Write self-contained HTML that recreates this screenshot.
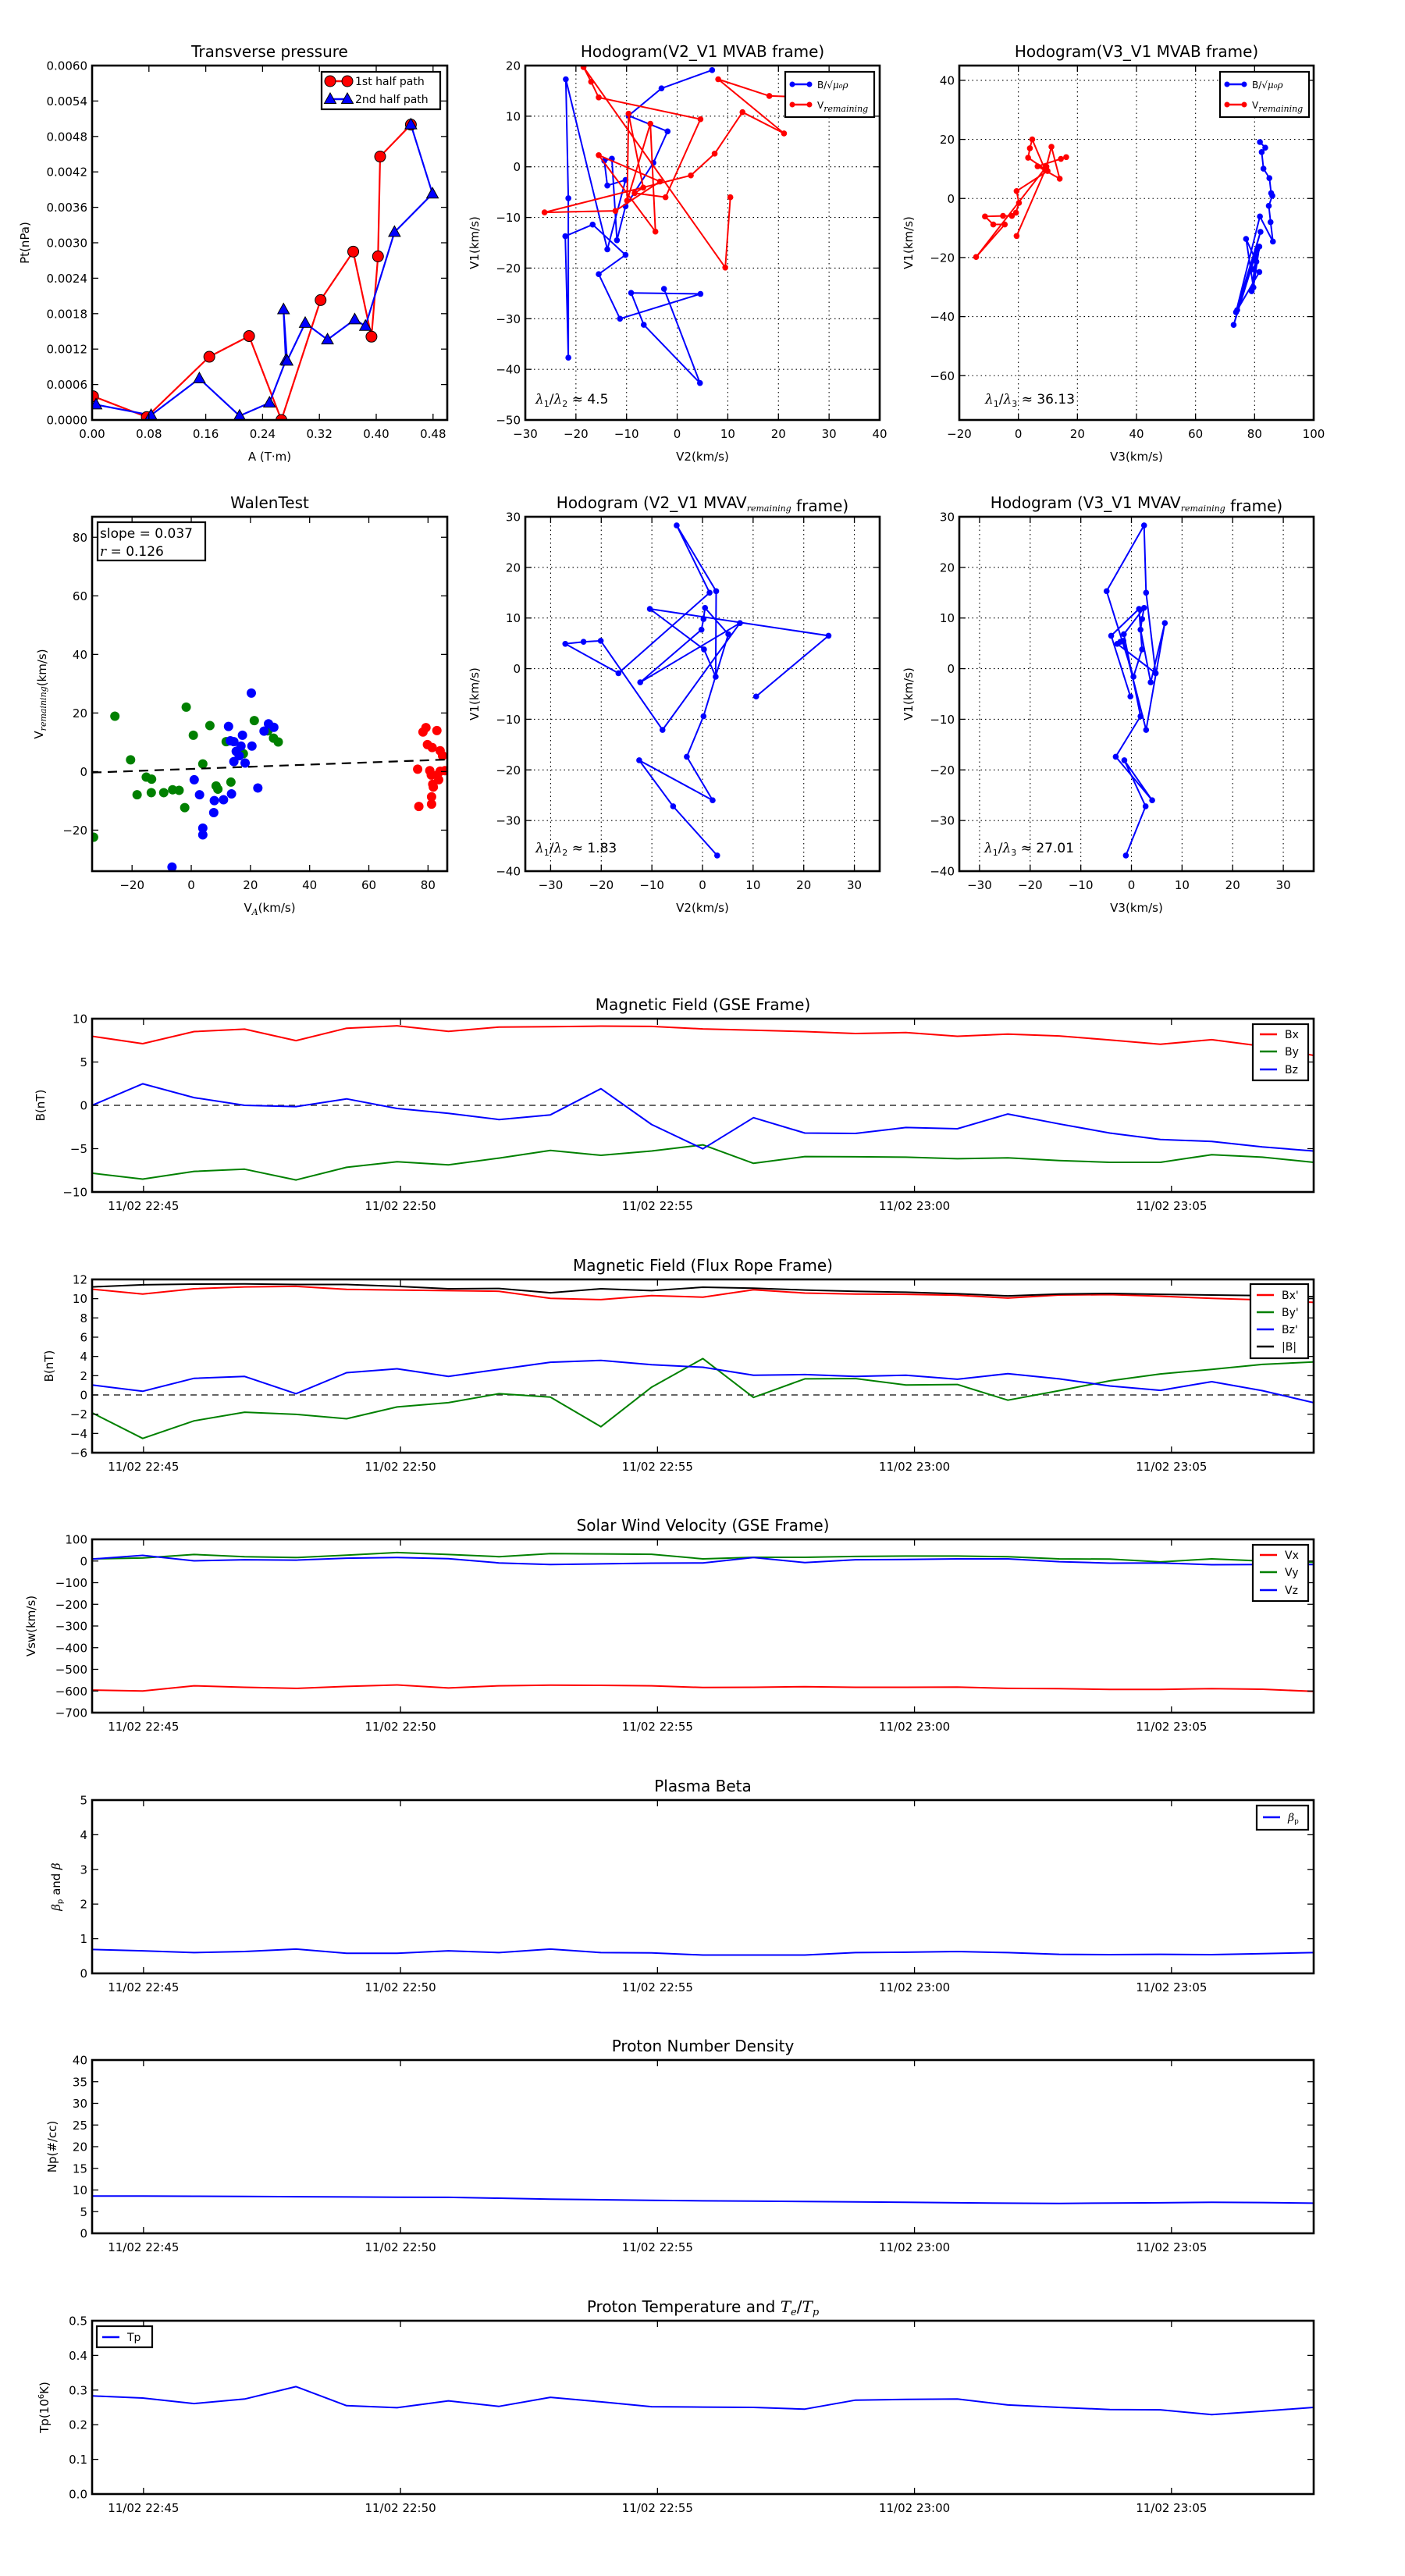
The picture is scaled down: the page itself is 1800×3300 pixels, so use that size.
<!DOCTYPE html>
<html><head><meta charset="utf-8"><title>Flux rope analysis</title>
<style>
html,body{margin:0;padding:0;background:#fff;}
svg{display:block;font-family:"DejaVu Sans","Liberation Sans",sans-serif;}
</style></head>
<body>
<svg id="fig" xmlns="http://www.w3.org/2000/svg" width="1800" height="3300" viewBox="0 0 1800 3300">
<rect x="0" y="0" width="1800" height="3300" fill="#fff"/>
</svg>
<script>
// ---------- Transverse pressure ----------
const P1_A1 = [0.0013,0.077,0.165,0.221,0.2665,0.3217,0.3676,0.3933,0.4025,0.4055,0.4488];
const P1_PT1 = [0.000402,0.00005,0.00107,0.00142,0,0.00203,0.00285,0.00141,0.00277,0.00446,0.00500];
const P1_A2 = [0.0055,0.083,0.151,0.2076,0.2497,0.2728,0.2695,0.2745,0.300,0.3314,0.3697,0.3848,0.4257,0.4792,0.4488];
const P1_PT2 = [0.00026,0.00008,0.00070,0.00007,0.00029,0.00101,0.00187,0.0010,0.00164,0.00136,0.00170,0.00159,0.00318,0.00383,0.005];
// ---------- Hodogram V2_V1 MVAB ----------
const H2_B_V2 = [6.9,-3.1,-9.6,-1.9,-4.7,-10.2,-11.9,-12.9,-14.4,-13.8,-10.2,-13.8,-22.0,-21.5,-21.5,-22.1,-16.7,-10.2,-15.5,-11.3,4.6,-9.1,-6.6,4.5,-2.6];
const H2_B_V1 = [19.1,15.5,10.1,7.0,0.8,-7.8,-14.5,1.6,1.2,-3.7,-2.6,-16.3,17.3,-6.2,-37.7,-13.7,-11.4,-17.4,-21.2,-30.0,-25.1,-24.9,-31.2,-42.7,-24.1];
const H2_R_V2 = [10.5,9.5,-18.5,-17.0,-15.5,4.6,-2.3,-8.4,-6.7,-9.6,-9.9,-5.3,-4.3,-15.5,-3.4,-12.2,-26.2,2.7,7.4,12.9,21.1,8.1,18.2,24.9];
const H2_R_V1 = [-6.0,-19.9,19.7,16.8,13.7,9.4,-6.0,-5.2,-4.1,10.5,-6.7,8.5,-12.8,2.3,-2.9,-8.7,-9.0,-1.7,2.6,10.8,6.6,17.3,14.0,13.8];
// ---------- Hodogram V3_V1 MVAB ----------
const H3_B_V3 = [81.8,83.6,82.4,83.0,85.0,85.6,86.0,84.8,85.4,86.2,81.8,73.7,82.0,72.9,80.8,79.0,81.6,79.6,77.1,80.6,79.4,81.6,74.1];
const H3_B_V1 = [19.1,17.2,15.7,10.1,6.9,1.8,0.9,-2.5,-8.0,-14.6,-6.1,-38.5,-11.3,-42.8,-17.4,-31.4,-16.3,-30.1,-13.7,-21.4,-24.0,-24.9,-37.8];
const H3_R_V3 = [-0.6,9.1,4.7,3.9,3.3,9.9,-0.6,0.2,-0.8,-2.2,-5.2,-11.3,-8.5,-4.6,-14.3,9.5,11.2,14.0,6.5,16.2,14.4];
const H3_R_V1 = [-12.7,9.6,20.0,17.0,13.8,9.3,2.5,-1.5,-4.8,-5.9,-5.9,-6.1,-8.8,-8.8,-19.8,10.8,17.5,6.7,10.9,14.0,13.4];
// ---------- Walen test ----------
const W_G_VA = [-33.0,-25.8,-20.5,-18.3,-15.2,-13.4,-13.5,-9.3,-6.3,-4.1,-2.2,-1.7,0.7,3.9,6.3,8.4,9.0,11.8,13.4,17.6,21.3,25.9,27.8,29.4];
const W_G_V = [-22.4,18.9,4.0,-7.9,-1.9,-2.6,-7.2,-7.2,-6.2,-6.4,-12.3,22.0,12.4,2.6,15.7,-4.9,-6.0,10.2,-3.6,6.1,17.4,13.9,11.4,10.1];
const W_B_VA = [-6.5,1.0,2.8,3.9,3.9,7.6,7.8,10.9,12.6,13.2,14.4,13.6,14.4,15.2,16.2,16.8,17.3,18.2,20.3,20.5,22.5,24.6,26.1,27.9];
const W_B_V = [-32.6,-2.8,-7.9,-19.3,-21.6,-14.0,-9.9,-9.6,15.4,10.5,10.2,-7.6,3.4,6.9,5.4,8.7,12.4,2.9,26.8,8.7,-5.6,13.8,16.3,15.1];
const W_R_VA = [76.5,76.9,78.3,79.3,79.8,81.4,83.0,84.1,84.9,85.7,80.6,81.1,81.6,81.8,81.2,81.2,83.1,83.6,84.1];
const W_R_V = [0.8,-11.9,13.5,15.0,9.2,8.2,14.0,7.1,5.4,0.3,0.3,-1.2,-4.3,-5.3,-8.6,-11.1,-1.2,-2.8,0.1];
const W_SLOPE = 0.037;
const W_INTERCEPT = 0.9;
// ---------- MVAV hodograms (shared V1) ----------
const M_V1 = [-36.9,-27.2,-18.1,-26.0,-17.4,-9.4,6.8,12.0,9.8,7.7,-2.7,9.0,-12.1,5.5,5.3,4.9,-0.9,15.0,28.3,15.3,-1.6,3.8,11.8,6.5,-5.5];
const M_V2 = [2.9,-5.8,-12.5,2.0,-3.1,0.2,5.1,0.5,0.2,-0.2,-12.3,7.4,-7.9,-20.1,-23.5,-27.1,-16.6,1.4,-5.1,2.7,2.6,0.3,-10.4,24.9,10.6];
const M_V3 = [-1.1,2.8,-1.4,4.1,-3.1,1.8,-1.5,2.5,2.1,1.8,3.8,6.6,2.9,-1.6,-2.2,-2.8,4.8,2.9,2.5,-4.9,0.4,2.1,1.5,-4.0,-0.2];
// ---------- Time series ----------
const TIMES = ["22:44:00","22:44:59","22:45:59","22:46:58","22:47:58","22:48:57","22:49:56","22:50:56","22:51:55","22:52:55","22:53:54","22:54:53","22:55:53","22:56:52","22:57:52","22:58:51","22:59:50","23:00:50","23:01:49","23:02:49","23:03:48","23:04:47","23:05:47","23:06:46","23:07:46"];
const TIME_TICKS = ["22:45:00","22:50:00","22:55:00","23:00:00","23:05:00"];
const TIME_TICK_LABELS = ["11/02 22:45","11/02 22:50","11/02 22:55","11/02 23:00","11/02 23:05"];
const BX = [7.97,7.12,8.51,8.79,7.47,8.90,9.18,8.54,9.04,9.07,9.14,9.11,8.82,8.68,8.51,8.29,8.40,7.97,8.22,8.01,7.54,7.05,7.58,6.83,5.77];
const BY = [-7.83,-8.51,-7.62,-7.37,-8.61,-7.15,-6.51,-6.87,-6.09,-5.20,-5.77,-5.27,-4.56,-6.69,-5.91,-5.94,-5.98,-6.16,-6.05,-6.37,-6.58,-6.58,-5.69,-5.98,-6.58];
const BZ = [0,2.49,0.89,0,-0.14,0.75,-0.36,-0.93,-1.64,-1.10,1.92,-2.21,-5.02,-1.42,-3.20,-3.24,-2.56,-2.70,-1.00,-2.14,-3.20,-3.95,-4.16,-4.80,-5.27];
const BXP = [10.99,10.48,11.03,11.22,11.28,10.96,10.90,10.83,10.77,10.03,9.90,10.32,10.16,10.93,10.58,10.48,10.45,10.35,10.06,10.38,10.42,10.26,10.03,9.87,9.62];
const BYP = [-1.86,-4.52,-2.69,-1.79,-2.02,-2.47,-1.25,-0.80,0.13,-0.22,-3.30,0.80,3.78,-0.26,1.67,1.70,1.03,1.09,-0.54,0.45,1.47,2.18,2.66,3.17,3.43];
const BZP = [1.03,0.38,1.73,1.92,0.13,2.31,2.72,1.92,2.66,3.40,3.59,3.14,2.88,2.05,2.12,1.92,2.05,1.63,2.21,1.67,0.93,0.48,1.38,0.45,-0.80];
const BMAG = [11.22,11.44,11.51,11.54,11.47,11.47,11.28,11.03,11.06,10.61,11.03,10.83,11.19,11.09,10.90,10.77,10.67,10.51,10.29,10.48,10.54,10.45,10.38,10.32,10.19];
const VX = [-596,-600,-576,-583,-588,-579,-572,-586,-576,-573,-574,-576,-584,-583,-580,-583,-583,-582,-588,-589,-593,-593,-589,-592,-602];
const VY = [10,14,30,20,16,27,39,30,20,34,33,31,10,17,17,21,23,23,20,10,9,-4,10,0,-6];
const VZ = [9,26,1,6,4,13,16,11,-9,-16,-13,-10,-9,16,-7,6,7,10,10,-3,-10,-9,-17,-16,-16];
const BETA = [0.69,0.65,0.60,0.63,0.70,0.58,0.58,0.65,0.60,0.70,0.60,0.59,0.53,0.53,0.53,0.60,0.61,0.63,0.60,0.55,0.54,0.55,0.54,0.57,0.60];
const NP = [8.6,8.6,8.55,8.5,8.45,8.4,8.35,8.3,8.1,7.9,7.75,7.6,7.5,7.45,7.35,7.25,7.15,7.05,6.95,6.9,7.0,7.05,7.15,7.1,6.95];
const TP = [0.283,0.277,0.261,0.274,0.310,0.255,0.249,0.269,0.253,0.279,0.266,0.252,0.251,0.250,0.245,0.271,0.273,0.274,0.257,0.250,0.244,0.243,0.229,0.239,0.250];

const NS = "http://www.w3.org/2000/svg";
const svg = document.getElementById('fig');
let clipCount = 0;
function mk(tag, attrs, parent) {
  const e = document.createElementNS(NS, tag);
  for (const k in attrs) e.setAttribute(k, attrs[k]);
  (parent || svg).appendChild(e);
  return e;
}
function range(a, b, s) { const r = []; for (let v = a; v <= b + 1e-9; v += s) r.push(+v.toFixed(6)); return r; }
function minutes(t) { const p = t.split(':'); return (+p[0]) * 60 + (+p[1]) + (p[2] ? (+p[2]) / 60 : 0); }
const T0 = minutes(TIMES[0]);

// column / row layout
const C1 = 118, C2 = 673, C3 = 1229, W = 455;
const R1 = 84, R2 = 662, H = 454;

function axes(o) {
  const sx = v => o.x0 + (v - o.xmin) / (o.xmax - o.xmin) * (o.x1 - o.x0);
  const sy = v => o.y1 - (v - o.ymin) / (o.ymax - o.ymin) * (o.y1 - o.y0);
  const root = mk('g', {});
  
  
  const cid = 'clip' + (clipCount++);
  const cp = mk('clipPath', {id: cid}, root);
  mk('rect', {x: o.x0, y: o.y0, width: o.x1 - o.x0, height: o.y1 - o.y0}, cp);
  if (o.grid) {
    const gg = mk('g', {stroke: '#000', 'stroke-width': 1.1, 'stroke-dasharray': '1.5,4'}, root);
    
    
    o.xt.forEach(v => mk('line', {x1: sx(v), x2: sx(v), y1: o.y0, y2: o.y1}, gg));
    o.yt.forEach(v => mk('line', {x1: o.x0, x2: o.x1, y1: sy(v), y2: sy(v)}, gg));
  }
  const plot = mk('g', {'clip-path': 'url(#' + cid + ')'}, root);
  
  
  const fr = mk('g', {}, root);
  
  
  o.xt.forEach((v, i) => {
    const x = sx(v);
    mk('line', {x1: x, x2: x, y1: o.y1, y2: o.y1 - 8, stroke: '#000', 'stroke-width': 1.3}, fr);
    mk('line', {x1: x, x2: x, y1: o.y0, y2: o.y0 + 8, stroke: '#000', 'stroke-width': 1.3}, fr);
    const t = mk('text', {x: x, y: o.y1 + 23, 'text-anchor': 'middle', 'font-size': o.fs || 15}, fr);
    
    
    t.textContent = o.xl[i];
  });
  o.yt.forEach((v, i) => {
    const y = sy(v);
    mk('line', {x1: o.x0, x2: o.x0 + 8, y1: y, y2: y, stroke: '#000', 'stroke-width': 1.3}, fr);
    mk('line', {x1: o.x1, x2: o.x1 - 8, y1: y, y2: y, stroke: '#000', 'stroke-width': 1.3}, fr);
    const t = mk('text', {x: o.x0 - 6, y: y + 5.5, 'text-anchor': 'end', 'font-size': o.fs || 15}, fr);
    
    
    t.textContent = o.yl[i];
  });
  const frame = mk('rect', {x: o.x0, y: o.y0, width: o.x1 - o.x0, height: o.y1 - o.y0, fill: 'none', stroke: '#000', 'stroke-width': 2.6}, fr);
  
  
  const ti = mk('text', {x: (o.x0 + o.x1) / 2, y: o.y0 - 11, 'text-anchor': 'middle', 'font-size': 20}, fr);
  
  
  ti.innerHTML = o.title;
  if (o.xlabel) {
    const xl = mk('text', {x: (o.x0 + o.x1) / 2, y: o.y1 + 52, 'text-anchor': 'middle', 'font-size': 15}, fr);
    
    
    xl.innerHTML = o.xlabel;
  }
  if (o.ylabel) {
    const cy = (o.y0 + o.y1) / 2;
    const yl = mk('text', {x: o.ylx, y: cy, 'text-anchor': 'middle', 'font-size': 15, transform: 'rotate(-90 ' + o.ylx + ' ' + cy + ')'}, fr);
    
    
    yl.innerHTML = o.ylabel;
  }
  return {sx, sy, plot, root};
}
function polyline(ax, xs, ys, color, w, name) {
  const pts = xs.map((x, i) => ax.sx(x).toFixed(1) + ',' + ax.sy(ys[i]).toFixed(1)).join(' ');
  const p = mk('polyline', {points: pts, fill: 'none', stroke: color, 'stroke-width': w, 'stroke-linejoin': 'round'}, ax.plot);
  
  
  return p;
}
function dots(ax, xs, ys, color, r, stroke, name) {
  xs.forEach((x, i) => {
    const c = mk('circle', {cx: ax.sx(x), cy: ax.sy(ys[i]), r: r, fill: color, stroke: stroke || 'none', 'stroke-width': 1}, ax.plot);
    
    
  });
}
function tris(ax, xs, ys, color, name) {
  xs.forEach((x, i) => {
    const cx = ax.sx(x), cy = ax.sy(ys[i]);
    const p = mk('polygon', {points: `${cx},${cy - 8} ${cx - 7.5},${cy + 5.5} ${cx + 7.5},${cy + 5.5}`, fill: color, stroke: '#000', 'stroke-width': 1}, ax.plot);
    
    
  });
}
function legendBox(x, y, w, h, name) {
  const g = mk('g', {});
  
  
  mk('rect', {x: x, y: y, width: w, height: h, fill: '#fff', stroke: '#000', 'stroke-width': 2.2}, g);
  return g;
}
function legendEntry(g, x, y, color, label, marker, fs) {
  const e = mk('g', {}, g);
  
  
  mk('line', {x1: x, x2: x + 22, y1: y, y2: y, stroke: color, 'stroke-width': 2.5}, e);
  if (marker === 'dot') { mk('circle', {cx: x, cy: y, r: 3.5, fill: color}, e); mk('circle', {cx: x + 22, cy: y, r: 3.5, fill: color}, e); }
  if (marker === 'bigdot') { mk('circle', {cx: x, cy: y, r: 7, fill: color, stroke: '#000'}, e); mk('circle', {cx: x + 22, cy: y, r: 7, fill: color, stroke: '#000'}, e); }
  if (marker === 'tri') { [x, x + 22].forEach(cx => mk('polygon', {points: `${cx},${y - 8} ${cx - 7.5},${y + 5.5} ${cx + 7.5},${y + 5.5}`, fill: color, stroke: '#000'}, e)); }
  const t = mk('text', {x: x + 32, y: y + 5, 'font-size': fs || 14}, e);
  t.innerHTML = label;
}
function note(x, y, html, name) {
  const t = mk('text', {x: x, y: y, 'font-size': 17});
  
  
  t.innerHTML = html;
}
const SUBREM = '<tspan font-family="DejaVu Serif" font-style="italic" font-size="11" dy="4">remaining</tspan><tspan dy="-4"></tspan>';
const ROOT = 'B/<tspan font-style="italic" font-family="DejaVu Serif">√μ₀ρ</tspan>';
const neg = v => v < 0 ? '−' + (-v) : '' + v;
function lam(a, b, val) {
  return '<tspan font-family="DejaVu Serif" font-style="italic">λ</tspan><tspan font-size="11" dy="4">' + a + '</tspan><tspan dy="-4">/</tspan><tspan font-family="DejaVu Serif" font-style="italic">λ</tspan><tspan font-size="11" dy="4">' + b + '</tspan><tspan dy="-4"> ≈ ' + val + '</tspan>';
}

// ===== Transverse pressure =====
(function () {
  const ax = axes({id: 'transverse-pressure', x0: C1, x1: C1 + W, y0: R1, y1: R1 + H, xmin: 0, xmax: 0.5, ymin: 0, ymax: 0.006,
    xt: range(0, 0.48, 0.08), xl: range(0, 0.48, 0.08).map(v => v.toFixed(2)),
    yt: range(0, 0.006, 0.0006), yl: range(0, 0.006, 0.0006).map(v => v.toFixed(4)),
    title: 'Transverse pressure', xlabel: 'A (T·m)', ylabel: 'Pt(nPa)', ylx: 37});
  polyline(ax, P1_A1, P1_PT1, '#f00', 2.2, 'first-half-path-line');
  polyline(ax, P1_A2, P1_PT2, '#00f', 2.2, 'second-half-path-line');
  dots(ax, P1_A1, P1_PT1, '#f00', 7, '#000', 'first-half-path-marker');
  tris(ax, P1_A2, P1_PT2, '#00f', 'second-half-path-marker');
  const lg = legendBox(412, 92, 152, 48, 'transverse-pressure-legend');
  legendEntry(lg, 423, 104, '#f00', '1st half path', 'bigdot', 14);
  legendEntry(lg, 423, 127, '#00f', '2nd half path', 'tri', 14);
})();

// ===== Hodogram V2_V1 MVAB =====
(function () {
  const ax = axes({id: 'hodogram-v2-v1-mvab', x0: C2, x1: C2 + W - 1, y0: R1, y1: R1 + H, xmin: -30, xmax: 40, ymin: -50, ymax: 20, grid: true,
    xt: range(-30, 40, 10), xl: range(-30, 40, 10).map(neg),
    yt: range(-50, 20, 10), yl: range(-50, 20, 10).map(neg),
    title: 'Hodogram(V2_V1 MVAB frame)', xlabel: 'V2(km/s)', ylabel: 'V1(km/s)', ylx: 613});
  polyline(ax, H2_B_V2, H2_B_V1, '#00f', 2, 'b-hodogram-line');
  dots(ax, H2_B_V2, H2_B_V1, '#00f', 3.8, null, 'b-hodogram-point');
  polyline(ax, H2_R_V2, H2_R_V1, '#f00', 2, 'v-remaining-hodogram-line');
  dots(ax, H2_R_V2, H2_R_V1, '#f00', 3.8, null, 'v-remaining-hodogram-point');
  const lg = legendBox(1006, 92, 114, 58, 'hodogram-v2-v1-mvab-legend');
  legendEntry(lg, 1015, 108, '#00f', ROOT, 'dot', 12);
  legendEntry(lg, 1015, 134, '#f00', 'V' + SUBREM, 'dot', 12);
  note(686, 517, lam(1, 2, '4.5'), 'eigenvalue-ratio-note');
})();

// ===== Hodogram V3_V1 MVAB =====
(function () {
  const ax = axes({id: 'hodogram-v3-v1-mvab', x0: C3, x1: C3 + W - 1, y0: R1, y1: R1 + H, xmin: -20, xmax: 100, ymin: -75, ymax: 45, grid: true,
    xt: range(-20, 100, 20), xl: range(-20, 100, 20).map(neg),
    yt: range(-60, 40, 20), yl: range(-60, 40, 20).map(neg),
    title: 'Hodogram(V3_V1 MVAB frame)', xlabel: 'V3(km/s)', ylabel: 'V1(km/s)', ylx: 1169});
  polyline(ax, H3_B_V3, H3_B_V1, '#00f', 2, 'b-hodogram-line');
  dots(ax, H3_B_V3, H3_B_V1, '#00f', 3.8, null, 'b-hodogram-point');
  polyline(ax, H3_R_V3, H3_R_V1, '#f00', 2, 'v-remaining-hodogram-line');
  dots(ax, H3_R_V3, H3_R_V1, '#f00', 3.8, null, 'v-remaining-hodogram-point');
  const lg = legendBox(1563, 92, 114, 58, 'hodogram-v3-v1-mvab-legend');
  legendEntry(lg, 1572, 108, '#00f', ROOT, 'dot', 12);
  legendEntry(lg, 1572, 134, '#f00', 'V' + SUBREM, 'dot', 12);
  note(1262, 517, lam(1, 3, '36.13'), 'eigenvalue-ratio-note');
})();

// ===== Walen test =====
(function () {
  const ax = axes({id: 'walen-test', x0: C1, x1: C1 + W, y0: R2, y1: R2 + H, xmin: -33.5, xmax: 86.5, ymin: -34, ymax: 87,
    xt: range(-20, 80, 20), xl: range(-20, 80, 20).map(neg),
    yt: range(-20, 80, 20), yl: range(-20, 80, 20).map(neg),
    title: 'WalenTest', xlabel: 'V<tspan font-family="DejaVu Serif" font-style="italic" font-size="11" dy="4">A</tspan><tspan dy="-4">(km/s)</tspan>',
    ylabel: 'V' + SUBREM + '(km/s)', ylx: 55});
  dots(ax, W_G_VA, W_G_V, '#008000', 6, null, 'walen-point-green');
  dots(ax, W_B_VA, W_B_V, '#00f', 6, null, 'walen-point-blue');
  dots(ax, W_R_VA, W_R_V, '#f00', 6, null, 'walen-point-red');
  const fx = [-33.5, 86.5];
  const fy = fx.map(x => W_SLOPE * x + W_INTERCEPT);
  const fl = polyline(ax, fx, fy, '#000', 2.2, 'walen-fit-line');
  fl.setAttribute('stroke-dasharray', '12,8');
  const g = legendBox(125, 669, 138, 49, 'walen-stats-box');
  const t1 = mk('text', {x: 128, y: 689, 'font-size': 17}, g);
  t1.textContent = 'slope = 0.037';
  const t2 = mk('text', {x: 128, y: 712, 'font-size': 17}, g);
  t2.innerHTML = '<tspan font-family="DejaVu Serif" font-style="italic">r</tspan> = 0.126';
})();

// ===== MVAV hodograms =====
(function () {
  const ax = axes({id: 'hodogram-v2-v1-mvav', x0: C2, x1: C2 + W - 1, y0: R2, y1: R2 + H, xmin: -35, xmax: 35, ymin: -40, ymax: 30, grid: true,
    xt: range(-30, 30, 10), xl: range(-30, 30, 10).map(neg),
    yt: range(-40, 30, 10), yl: range(-40, 30, 10).map(neg),
    title: 'Hodogram (V2_V1 MVAV' + SUBREM + ' frame)', xlabel: 'V2(km/s)', ylabel: 'V1(km/s)', ylx: 613});
  polyline(ax, M_V2, M_V1, '#00f', 2, 'mvav-hodogram-line');
  dots(ax, M_V2, M_V1, '#00f', 3.8, null, 'mvav-hodogram-point');
  note(686, 1092, lam(1, 2, '1.83'), 'eigenvalue-ratio-note');
})();
(function () {
  const ax = axes({id: 'hodogram-v3-v1-mvav', x0: C3, x1: C3 + W - 1, y0: R2, y1: R2 + H, xmin: -34, xmax: 36, ymin: -40, ymax: 30, grid: true,
    xt: range(-30, 30, 10), xl: range(-30, 30, 10).map(neg),
    yt: range(-40, 30, 10), yl: range(-40, 30, 10).map(neg),
    title: 'Hodogram (V3_V1 MVAV' + SUBREM + ' frame)', xlabel: 'V3(km/s)', ylabel: 'V1(km/s)', ylx: 1169});
  polyline(ax, M_V3, M_V1, '#00f', 2, 'mvav-hodogram-line');
  dots(ax, M_V3, M_V1, '#00f', 3.8, null, 'mvav-hodogram-point');
  note(1261, 1092, lam(1, 3, '27.01'), 'eigenvalue-ratio-note');
})();

// ===== Time series =====
const TS_X0 = 118, TS_X1 = 1683, TS_H = 222;
function tsAxes(id, y0, ymin, ymax, yt, yl, title, ylabel, ylx) {
  return axes({id: id, x0: TS_X0, x1: TS_X1, y0: y0, y1: y0 + TS_H, xmin: 0, xmax: minutes(TIMES[TIMES.length - 1]) - T0, ymin: ymin, ymax: ymax,
    xt: TIME_TICKS.map(t => minutes(t) - T0), xl: TIME_TICK_LABELS, yt: yt, yl: yl, title: title, ylabel: ylabel, ylx: ylx});
}
const TX = TIMES.map(t => minutes(t) - T0);
function zeroLine(ax, name) {
  const l = polyline(ax, [TX[0], TX[TX.length - 1]], [0, 0], '#333', 1.5, name);
  l.setAttribute('stroke-dasharray', '8,6');
}
(function () {
  const ax = tsAxes('magnetic-field-gse', 1305, -10, 10, range(-10, 10, 5), range(-10, 10, 5).map(neg), 'Magnetic Field (GSE Frame)', 'B(nT)', 57);
  zeroLine(ax, 'zero-line');
  polyline(ax, TX, BX, '#f00', 2, 'bx-line');
  polyline(ax, TX, BY, '#008000', 2, 'by-line');
  polyline(ax, TX, BZ, '#00f', 2, 'bz-line');
  const lg = legendBox(1605, 1312, 71, 72, 'magnetic-field-gse-legend');
  legendEntry(lg, 1614, 1325, '#f00', 'Bx', null, 14);
  legendEntry(lg, 1614, 1347, '#008000', 'By', null, 14);
  legendEntry(lg, 1614, 1370, '#00f', 'Bz', null, 14);
})();
(function () {
  const ax = tsAxes('magnetic-field-flux-rope', 1639, -6, 12, range(-6, 12, 2), range(-6, 12, 2).map(neg), 'Magnetic Field (Flux Rope Frame)', 'B(nT)', 68);
  zeroLine(ax, 'zero-line');
  polyline(ax, TX, BXP, '#f00', 2, 'bx-prime-line');
  polyline(ax, TX, BYP, '#008000', 2, 'by-prime-line');
  polyline(ax, TX, BZP, '#00f', 2, 'bz-prime-line');
  polyline(ax, TX, BMAG, '#000', 2, 'b-magnitude-line');
  const lg = legendBox(1602, 1645, 74, 95, 'magnetic-field-flux-rope-legend');
  legendEntry(lg, 1610, 1659, '#f00', "Bx'", null, 14);
  legendEntry(lg, 1610, 1681, '#008000', "By'", null, 14);
  legendEntry(lg, 1610, 1703, '#00f', "Bz'", null, 14);
  legendEntry(lg, 1610, 1725, '#000', '|B|', null, 14);
})();
(function () {
  const ax = tsAxes('solar-wind-velocity', 1972, -700, 100, range(-700, 100, 100), range(-700, 100, 100).map(neg), 'Solar Wind Velocity (GSE Frame)', 'Vsw(km/s)', 45);
  polyline(ax, TX, VX, '#f00', 2, 'vx-line');
  polyline(ax, TX, VY, '#008000', 2, 'vy-line');
  polyline(ax, TX, VZ, '#00f', 2, 'vz-line');
  const lg = legendBox(1605, 1979, 71, 72, 'solar-wind-velocity-legend');
  legendEntry(lg, 1614, 1992, '#f00', 'Vx', null, 14);
  legendEntry(lg, 1614, 2014, '#008000', 'Vy', null, 14);
  legendEntry(lg, 1614, 2037, '#00f', 'Vz', null, 14);
})();
(function () {
  const ax = tsAxes('plasma-beta', 2306, 0, 5, range(0, 5, 1), range(0, 5, 1).map(String), 'Plasma Beta',
    '<tspan font-family="DejaVu Serif" font-style="italic">β</tspan><tspan font-size="10" dy="3">p</tspan><tspan dy="-3"> and </tspan><tspan font-family="DejaVu Serif" font-style="italic">β</tspan>', 77);
  polyline(ax, TX, BETA, '#00f', 2, 'beta-p-line');
  const lg = legendBox(1610, 2313, 66, 31, 'plasma-beta-legend');
  legendEntry(lg, 1618, 2328, '#00f', '<tspan font-family="DejaVu Serif" font-style="italic">β</tspan><tspan font-size="9" dy="3">p</tspan>', null, 14);
})();
(function () {
  const ax = tsAxes('proton-number-density', 2639, 0, 40, range(0, 40, 5), range(0, 40, 5).map(String), 'Proton Number Density', 'Np(#/cc)', 72);
  polyline(ax, TX, NP, '#00f', 2, 'np-line');
})();
(function () {
  const ax = tsAxes('proton-temperature', 2973, 0, 0.5, range(0, 0.5, 0.1), range(0, 0.5, 0.1).map(v => v.toFixed(1)),
    'Proton Temperature and <tspan font-family="DejaVu Serif" font-style="italic">T</tspan><tspan font-family="DejaVu Serif" font-style="italic" font-size="13" dy="4">e</tspan><tspan dy="-4">/</tspan><tspan font-family="DejaVu Serif" font-style="italic">T</tspan><tspan font-family="DejaVu Serif" font-style="italic" font-size="13" dy="4">p</tspan>',
    'Tp(10<tspan font-size="10" dy="-6">6</tspan><tspan dy="6">K)</tspan>', 62);
  polyline(ax, TX, TP, '#00f', 2, 'tp-line');
  const lg = legendBox(124, 2980, 71, 27, 'proton-temperature-legend');
  legendEntry(lg, 131, 2994, '#00f', 'Tp', null, 14);
})();
</script>
</body></html>
